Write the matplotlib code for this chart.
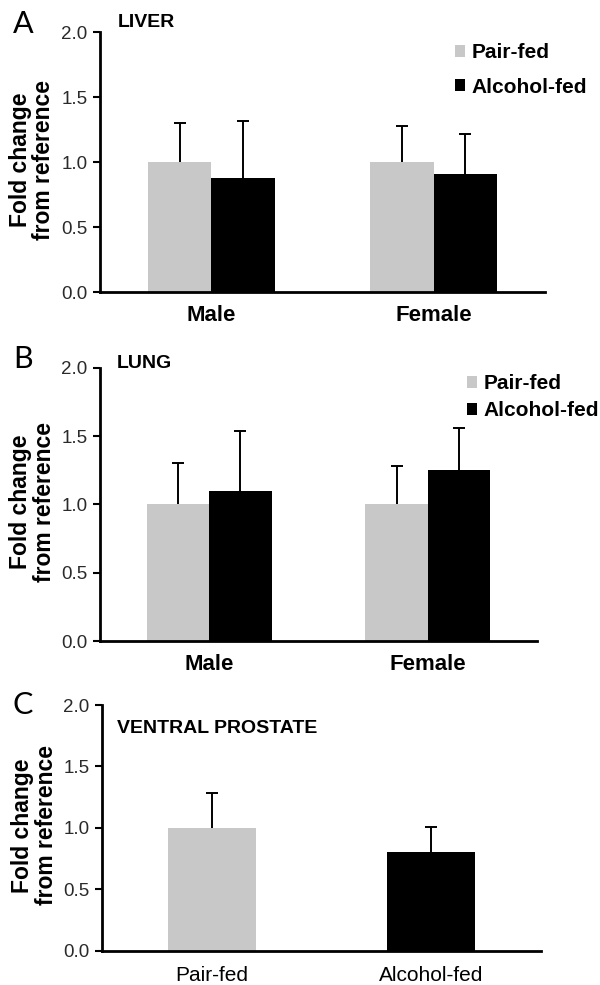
import numpy as np
import matplotlib.pyplot as plt

plt.rcParams['font.family'] = ['Liberation Sans', 'DejaVu Sans']

# Panel A / B: groups by sex
sexes = ['Male', 'Female']
liver_pair = [1.00, 1.00]
liver_pair_err = [0.30, 0.28]
liver_alc = [0.88, 0.91]
liver_alc_err = [0.44, 0.31]

lung_pair = [1.00, 1.00]
lung_pair_err = [0.30, 0.28]
lung_alc = [1.10, 1.25]
lung_alc_err = [0.44, 0.31]

# Panel C: ventral prostate (males only)
diets = ['Pair-fed', 'Alcohol-fed']
prostate = [1.00, 0.80]
prostate_err = [0.28, 0.21]

GREY = '#c8c8c8'
W, H = 600, 985

fig = plt.figure(figsize=(W / 100, H / 100), dpi=100)


def px_axes(left, right, top, bottom):
    return fig.add_axes([left / W, 1 - bottom / H, (right - left) / W, (bottom - top) / H])


def upper_only(container):
    # drop the cap at the bar top, keep only the upper whisker cap
    caps = container.errorbar.lines[1]
    caps[0].set_visible(False)


def style(ax):
    ax.set_ylim(0, 2.0)
    ax.set_xlim(-0.5, 1.5)
    ax.set_yticks([0, 0.5, 1.0, 1.5, 2.0])
    ax.set_yticklabels(['0.0', '0.5', '1.0', '1.5', '2.0'])
    for s in ['top', 'right']:
        ax.spines[s].set_visible(False)
    for s in ['left', 'bottom']:
        ax.spines[s].set_linewidth(2)
    ax.tick_params(axis='y', direction='out', length=5, width=1.5, labelsize=13.5,
                   labelcolor='#2a2a2a', pad=4)
    ax.tick_params(axis='x', length=0, pad=9)
    ax.set_ylabel('Fold change\nfrom reference', fontsize=16.5, fontweight='bold',
                  linespacing=1.05)
    ax.yaxis.set_label_coords(-0.1, 0.51)


def grouped(ax, pair, pair_err, alc, alc_err):
    x = np.arange(len(sexes))
    w = 0.285
    ekw = dict(elinewidth=1.4, capthick=1.4, ecolor='black')
    b1 = ax.bar(x - w / 2, pair, w, color=GREY, label='Pair-fed',
                yerr=[np.zeros(len(pair)), pair_err], capsize=4, error_kw=ekw)
    b2 = ax.bar(x + w / 2, alc, w, color='black', label='Alcohol-fed',
                yerr=[np.zeros(len(alc)), alc_err], capsize=4, error_kw=ekw)
    upper_only(b1)
    upper_only(b2)
    ax.set_xticks(x)
    ax.set_xticklabels(sexes, fontsize=16, fontweight='bold')
    style(ax)


# A: liver
axA = px_axes(100, 545, 32.3, 292.3)
grouped(axA, liver_pair, liver_pair_err, liver_alc, liver_alc_err)
axA.legend(loc='upper left', bbox_to_anchor=(455 / W, 1 - 43 / H),
           bbox_transform=fig.transFigure, frameon=False,
           prop={'weight': 'bold', 'size': 15}, handlelength=0.5, handleheight=0.5,
           handletextpad=0.3, labelspacing=0.75, borderpad=0, borderaxespad=0)

# B: lung
axB = px_axes(100, 537, 367.7, 641)
grouped(axB, lung_pair, lung_pair_err, lung_alc, lung_alc_err)
axB.legend(loc='upper left', bbox_to_anchor=(467 / W, 1 - 374 / H),
           bbox_transform=fig.transFigure, frameon=False,
           prop={'weight': 'bold', 'size': 15}, handlelength=0.5, handleheight=0.5,
           handletextpad=0.3, labelspacing=0.4, borderpad=0, borderaxespad=0)

# C: ventral prostate
axC = px_axes(102, 541, 705, 950.7)
xc = np.arange(len(diets))
bc = axC.bar(xc, prostate, 0.4, color=[GREY, 'black'],
             yerr=[np.zeros(len(prostate)), prostate_err], capsize=4,
             error_kw=dict(elinewidth=1.4, capthick=1.4, ecolor='black'))
upper_only(bc)
axC.set_xticks(xc)
axC.set_xticklabels(diets, fontsize=15)
style(axC)
axC.tick_params(axis='x', pad=11)

# panel letters and titles
for letter, base in [('A', 33), ('B', 368), ('C', 714)]:
    fig.text(13 / W, 1 - base / H, letter, fontsize=22, family=['Lato', 'DejaVu Sans'],
             va='baseline', ha='left')
for title, left, base in [('LIVER', 118, 27), ('LUNG', 117, 368), ('VENTRAL PROSTATE', 117, 733)]:
    fig.text(left / W, 1 - base / H, title, fontsize=14, fontweight='bold',
             va='baseline', ha='left')

fig.savefig('out.png', dpi=100)
